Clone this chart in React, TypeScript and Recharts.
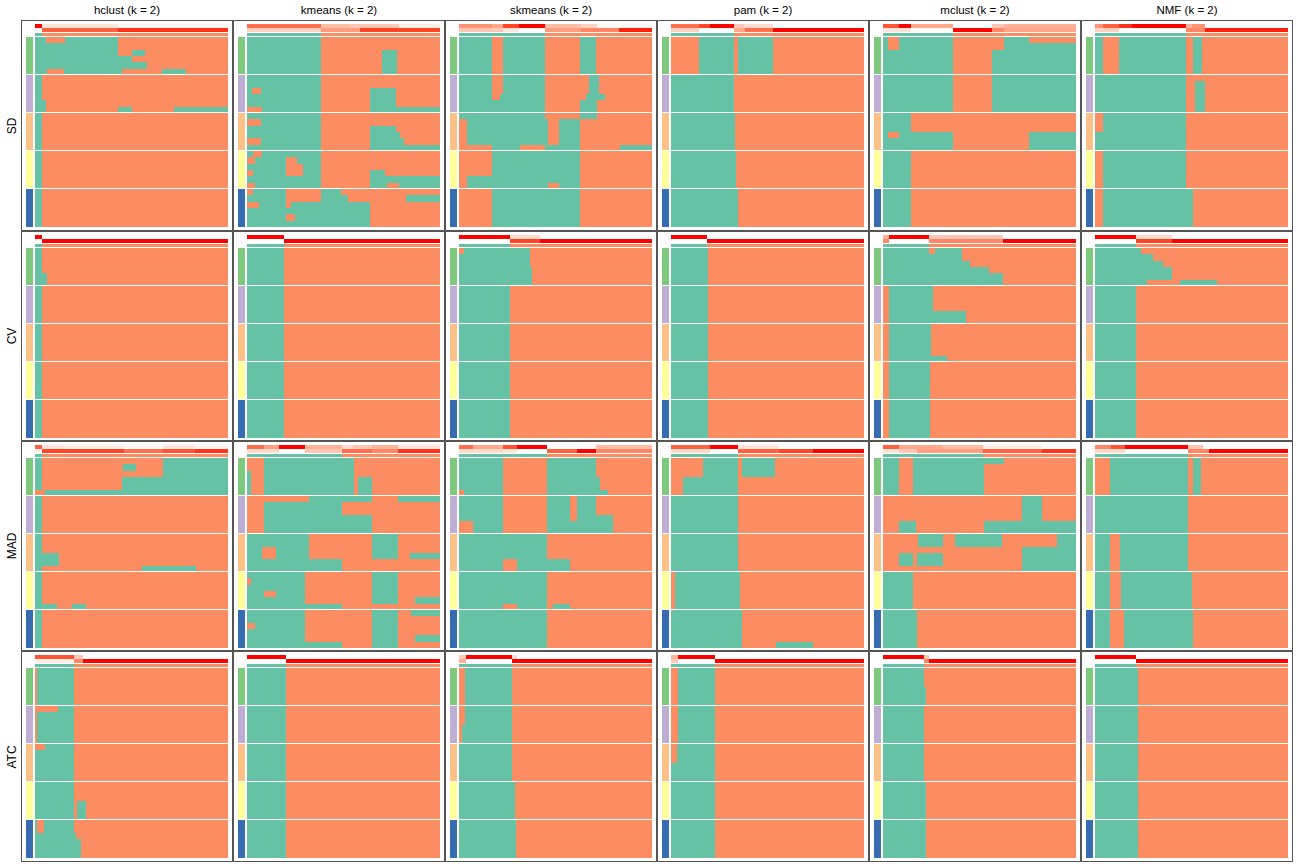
import { BarChart, Bar, XAxis, YAxis } from 'recharts'

const METHODS = ['hclust', 'kmeans', 'skmeans', 'pam', 'mclust', 'NMF']
const METRICS = ['SD', 'CV', 'MAD', 'ATC']
const GROUP_COLORS = ['#7FC97F', '#BEAED4', '#FDC086', '#FFFF99', '#386CB0']
const CLASS_COLORS = ['#66C2A5', '#FC8D62']

// top annotation runs: [width %, red intensity 0..1], one list per method
type Run = [number, number]
// heatmap rows: [repeat, alternating widths starting with class 1 (green)]
type Block = [number, number[]]
type Group = Block[]

const SD_P1: Run[][] = [
  [[3.6, 1], [39.5, 0.15], [56.9, 0.05]],
  [[38.5, 0.7], [15, 0.35], [25, 0.3], [21.5, 0.1]],
  [[17, 0.55], [6, 0.45], [8, 0.85], [13.6, 1], [18.4, 0.35], [8.6, 0.25], [28.4, 0.05]],
  [[14.7, 0.7], [5.3, 0.85], [12.6, 1], [5.4, 0.3], [14.6, 0.2], [47.4, 0]],
  [[8.4, 0.8], [5.9, 1], [22, 0.45], [20, 0], [6.3, 0.3], [37.4, 0.4]],
  [[4.2, 0.55], [8.4, 0.75], [6.8, 0.9], [27.8, 1], [3.3, 0.4], [6.3, 0.55], [43.2, 0]],
]
const SD_P2: Run[][] = [
  [[3.6, 0.05], [39.5, 0.75], [56.9, 0.9]],
  [[38.5, 0.25], [20, 0.5], [41.5, 0.85]],
  [[23, 0.3], [8, 0.15], [13.6, 0.02], [18.4, 0.5], [20, 0.6], [17, 0.95]],
  [[14.7, 0.25], [17.9, 0.02], [6, 0.45], [14.5, 0.7], [46.9, 1]],
  [[14.3, 0.15], [22, 0.02], [20, 1], [6.3, 0.6], [37.4, 0.45]],
  [[12.6, 0.25], [34.6, 0.02], [9.6, 0.6], [43.2, 0.95]],
]
const SD_CLASS = [3.6, 38.5, 44.6, 32.6, 36.3, 47.2]
const SD_CELLS: Group[][] = [
  [
    [[1, [5.5, 10, 27.5, 57]], [1, [43, 57]], [1, [43, 7, 7, 43]], [1, [50, 50]], [1, [58, 42]], [1, [6, 9, 30, 21, 12, 22]]],
    [[4, [3.6, 96.4]], [1, [5.5, 94.5]], [1, [5.5, 37.5, 7.5, 21.3, 28.2]]],
    [[6, [3.6, 96.4]]],
    [[6, [3.6, 96.4]]],
    [[6, [3.6, 96.4]]],
  ],
  [
    [[2, [38.5, 61.5]], [4, [38.5, 31.5, 7.5, 22.5]]],
    [[2, [38.5, 61.5]], [1, [2.5, 4.5, 31.5, 25, 13.5, 23]], [2, [38.5, 25, 13.5, 23]], [1, [0, 8, 30.5, 25, 36.5]]],
    [[1, [38.5, 61.5]], [1, [0, 7, 31.5, 61.5]], [1, [38.5, 25, 13.5, 23]], [1, [38.5, 25, 16, 20.5]], [1, [0, 7, 31.5, 25, 18, 18.5]], [1, [38.5, 25, 36.5]]],
    [[1, [3, 5, 30.5, 61.5]], [1, [0, 4, 16, 6, 12.5, 61.5]], [1, [20, 9, 9.5, 61.5]], [1, [0, 3, 17, 9, 9.5, 25, 8, 28.5]], [1, [38.5, 25, 36.5]], [1, [0, 4, 34.5, 25, 9, 6, 21.5]]],
    [[1, [0, 3, 17, 18.5, 10, 51.5]], [1, [20, 18.5, 14, 30, 17.5]], [1, [0, 6, 14, 3, 40.5, 36.5]], [1, [63.5, 36.5]], [1, [20, 5, 38.5, 36.5]], [1, [63.5, 36.5]]],
  ],
  [
    [[6, [17, 6, 21.6, 18, 8.5, 28.9]]],
    [[3, [17, 6, 21.6, 23, 5, 27.4]], [1, [17, 4, 23.6, 21, 10, 24.4]], [2, [44.6, 18, 9, 28.4]]],
    [[1, [44.6, 18, 9, 28.4]], [4, [0, 4, 42, 6, 10.7, 37.3]], [1, [0, 17, 14.5, 13.1, 18.1, 20.5, 16.8]]],
    [[4, [0, 17, 45.7, 37.3]], [1, [0, 4, 58.7, 37.3]], [1, [0, 4, 42, 6, 10.7, 37.3]]],
    [[6, [0, 17, 45.7, 37.3]]],
  ],
  [
    [[6, [0, 14.3, 18.3, 2.1, 17.9, 47.4]]],
    [[6, [32.6, 67.4]]],
    [[6, [33, 67]]],
    [[6, [33.5, 66.5]]],
    [[6, [34.7, 65.3]]],
  ],
  [
    [[1, [2.7, 5.7, 27.9, 26.3, 13.2, 24.2]], [1, [2.7, 5.7, 27.9, 26.3, 37.4]], [4, [36.3, 20, 43.7]]],
    [[6, [36.3, 20, 43.7]]],
    [[3, [14.3, 85.7]], [1, [2.7, 5.7, 27.9, 39.5, 24.2]], [2, [36.3, 39.5, 24.2]]],
    [[6, [14.3, 85.7]]],
    [[6, [14.3, 85.7]]],
  ],
  [
    [[6, [4.2, 8.4, 34.6, 3.8, 4.2, 44.8]]],
    [[1, [47.2, 52.8]], [5, [47.2, 4.6, 5, 43.2]]],
    [[3, [0, 4.2, 43, 52.8]], [3, [47.2, 52.8]]],
    [[6, [0, 4.2, 43, 52.8]]],
    [[6, [0, 4.2, 46.8, 49]]],
  ],
]

const CV_P1: Run[][] = [
  [[3.8, 1], [96.2, 0]],
  [[19, 1], [81, 0]],
  [[26.5, 1], [15.5, 0.2], [58, 0]],
  [[18.5, 1], [81.5, 0]],
  [[3, 0.4], [21, 1], [38, 0.3], [38, 0]],
  [[21.4, 1], [18.6, 0.2], [60, 0]],
]
const CV_P2: Run[][] = [
  [[3.8, 0], [96.2, 1]],
  [[19, 0], [81, 1]],
  [[26.5, 0], [15.5, 0.85], [58, 1]],
  [[18.5, 0], [81.5, 1]],
  [[3, 0.6], [21, 0], [38, 0.6], [38, 1]],
  [[21.4, 0], [18.6, 0.85], [60, 1]],
]
const CV_CLASS = [3.8, 19, 26.5, 18.5, 24, 21.4]
const CV_CELLS: Group[][] = [
  [
    [[4, [3.8, 96.2]], [2, [6.3, 93.7]]],
    [[6, [3.8, 96.2]]],
    [[6, [3.8, 96.2]]],
    [[6, [3.8, 96.2]]],
    [[6, [3.8, 96.2]]],
  ],
  [[[6, [19, 81]]], [[6, [19, 81]]], [[6, [19, 81]]], [[6, [19, 81]]], [[6, [19, 81]]]],
  [
    [[1, [0, 2.5, 34.5, 63]], [2, [37, 63]], [3, [37.8, 62.2]]],
    [[6, [26.5, 73.5]]],
    [[6, [26.5, 73.5]]],
    [[6, [26.5, 73.5]]],
    [[6, [26.5, 73.5]]],
  ],
  [[[6, [19, 81]]], [[6, [19, 81]]], [[6, [19, 81]]], [[6, [19, 81]]], [[6, [19, 81]]]],
  [
    [[1, [24, 3, 13.8, 59.2]], [1, [40.8, 59.2]], [1, [45, 55]], [1, [55, 45]], [2, [62, 38]]],
    [[4, [0, 3, 23, 74]], [2, [0, 3, 40, 57]]],
    [[5, [0, 3, 22, 75]], [1, [0, 3, 30, 67]]],
    [[6, [0, 3, 21.5, 75.5]]],
    [[6, [0, 3, 21.5, 75.5]]],
  ],
  [
    [[1, [24, 76]], [1, [30, 70]], [1, [35, 65]], [2, [40, 60]], [1, [27, 17, 19, 37]]],
    [[6, [21.4, 78.6]]],
    [[6, [21.4, 78.6]]],
    [[6, [21.4, 78.6]]],
    [[6, [21.4, 78.6]]],
  ],
]

const MAD_P1: Run[][] = [
  [[3.6, 0.75], [11.8, 0.15], [30.8, 0.1], [20, 0.03], [16.8, 0.15], [17, 0.05]],
  [[9, 0.7], [7.4, 0.5], [13.6, 1], [19, 0.4], [6, 0.2], [9.7, 0.3], [13.7, 0.4], [21.6, 0.15]],
  [[7.4, 0.7], [15.3, 0.45], [7.3, 0.8], [15.7, 1], [25.5, 0], [28.8, 0.35]],
  [[20, 0.75], [14.7, 1], [21.1, 0.15], [44.2, 0]],
  [[8.4, 0.75], [22.6, 0.45], [21, 0.35], [30.5, 0.1], [17.5, 0]],
  [[8.4, 0.6], [7.4, 0.8], [32.6, 1], [7.4, 0.3], [44.2, 0]],
]
const MAD_P2: Run[][] = [
  [[3.6, 0.1], [42.6, 0.85], [20, 0.7], [16.8, 0.8], [17, 0.9]],
  [[16.4, 0.2], [13.6, 0.02], [19, 0.3], [15.7, 0.7], [13.7, 0.6], [21.6, 0.9]],
  [[22.7, 0.2], [7.3, 0.15], [15.7, 0], [15.4, 0.75], [10.1, 1], [28.8, 0.6]],
  [[20, 0.2], [14.7, 0], [21.1, 0.75], [17.9, 0.85], [26.3, 1]],
  [[8.4, 0.15], [9, 0.3], [34.6, 0.5], [30.5, 0.75], [17.5, 0.9]],
  [[15.8, 0.2], [32.6, 0], [10.5, 0.6], [41.1, 1]],
]
const MAD_CLASS = [3.6, 49, 45.7, 34.7, 52, 48.4]
const MAD_CELLS: Group[][] = [
  [
    [[1, [3.6, 62.7, 33.7]], [1, [3.6, 42, 6.5, 14.2, 33.7]], [1, [3.6, 62.7, 33.7]], [2, [3.6, 41.6, 54.8]], [1, [0, 5, 95]]],
    [[6, [3.6, 96.4]]],
    [[3, [3.6, 96.4]], [2, [12.6, 87.4]], [1, [3.6, 51.8, 27.8, 16.8]]],
    [[5, [3.6, 96.4]], [1, [11.6, 7.4, 7.4, 73.6]]],
    [[6, [3.6, 96.4]]],
  ],
  [
    [[2, [0, 9, 46.4, 44.6]], [1, [2, 7, 46.4, 44.6]], [3, [2, 7, 46.4, 2, 7.3, 35.3]]],
    [[1, [0, 32, 32.7, 13.7, 21.6]], [2, [0, 9, 40, 51]], [3, [0, 9, 55.7, 35.3]]],
    [[2, [32.2, 32.5, 13.7, 21.6]], [1, [8, 7, 17.2, 32.5, 13.7, 21.6]], [1, [8, 7, 17.2, 32.5, 13.7, 6, 15.6]], [2, [49, 51]]],
    [[1, [30, 34.7, 13.7, 21.6]], [1, [0, 2, 28, 34.7, 13.7, 21.6]], [1, [30, 34.7, 13.7, 21.6]], [1, [9, 6, 15, 34.7, 13.7, 21.6]], [1, [30, 34.7, 13.7, 8.6, 13]], [1, [49, 51]]],
    [[1, [30, 34.7, 13.7, 6.5, 15.1]], [1, [30, 34.7, 13.7, 21.6]], [1, [0, 4, 26, 34.7, 13.7, 21.6]], [1, [30, 34.7, 13.7, 21.6]], [1, [30, 34.7, 13.7, 8.5, 13.1]], [1, [49, 15.7, 13.7, 21.6]]],
  ],
  [
    [[3, [22.7, 23, 25.5, 28.8]], [2, [22.7, 23, 27.3, 27]], [1, [0, 2.5, 20.2, 23, 31.5, 22.8]]],
    [[3, [22.7, 23, 11.6, 3.8, 10.1, 28.8]], [1, [22.7, 23, 11.6, 3.8, 18.9, 20]], [2, [0, 7, 15.7, 23, 34.3, 20]]],
    [[4, [45.7, 54.3]], [2, [22.7, 7.5, 27.3, 42.5]]],
    [[5, [45.7, 54.3]], [1, [22.7, 7.5, 15.5, 2.8, 9, 42.5]]],
    [[6, [45.7, 54.3]]],
  ],
  [
    [[3, [0, 16.8, 17.9, 2.1, 17.3, 45.9]], [3, [0, 6, 28.7, 65.3]]],
    [[6, [34.7, 65.3]]],
    [[6, [34.7, 65.3]]],
    [[6, [0, 2, 33.8, 64.2]]],
    [[5, [36.8, 63.2]], [1, [36.8, 17.5, 19.5, 26.2]]],
  ],
  [
    [[1, [8.4, 7.4, 46.8, 37.4]], [5, [8.4, 7.4, 36.3, 47.9]]],
    [[4, [0, 72, 10.3, 17.7]], [2, [0, 8.4, 8.8, 35.1, 47.7]]],
    [[2, [0, 18, 13, 6.5, 24.2, 28.3, 10]], [1, [0, 72, 28]], [2, [0, 8.4, 7.4, 2, 13.2, 41, 28]], [1, [0, 72, 28]]],
    [[6, [15.8, 84.2]]],
    [[6, [17.5, 82.5]]],
  ],
  [
    [[6, [0, 8, 40.4, 2.5, 3.8, 45.3]]],
    [[6, [48.4, 51.6]]],
    [[6, [8, 5, 35.4, 51.6]]],
    [[6, [8, 5.5, 36.5, 50]]],
    [[6, [8, 7, 36, 49]]],
  ],
]

const ATC_P1: Run[][] = [
  [[20, 0.8], [5, 0.3], [75, 0]],
  [[20.2, 1], [79.8, 0]],
  [[3.4, 0.3], [23.9, 1], [3, 0.2], [69.7, 0]],
  [[3.8, 0.4], [18.9, 1], [77.3, 0]],
  [[21, 1], [3, 0.3], [76, 0]],
  [[21.4, 1], [78.6, 0]],
]
const ATC_P2: Run[][] = [
  [[20, 0.1], [5, 0.6], [75, 1]],
  [[20.2, 0], [79.8, 1]],
  [[3.4, 0.4], [23.9, 0], [72.7, 1]],
  [[3.8, 0.3], [18.9, 0], [77.3, 1]],
  [[21, 0], [3, 0.6], [76, 1]],
  [[21.4, 0], [78.6, 1]],
]
const ATC_CLASS = [20, 20.2, 27.3, 22.7, 21, 21.4]
const ATC_CELLS: Group[][] = [
  [
    [[6, [0, 1, 19.2, 79.8]]],
    [[1, [0, 11.8, 8.4, 79.8]], [5, [0, 1, 19.2, 79.8]]],
    [[1, [0, 5, 15.2, 79.8]], [5, [20.2, 79.8]]],
    [[3, [20.2, 79.8]], [3, [20.2, 1.4, 4.7, 73.7]]],
    [[2, [1, 3.7, 15.5, 79.8]], [1, [21, 79]], [3, [23.9, 76.1]]],
  ],
  [[[6, [20.2, 79.8]]], [[6, [20.2, 79.8]]], [[6, [20.2, 79.8]]], [[6, [20.2, 79.8]]], [[6, [20.2, 79.8]]]],
  [
    [[6, [0, 3, 24.3, 72.7]]],
    [[3, [0, 3, 24.3, 72.7]], [3, [0, 1.5, 25.8, 72.7]]],
    [[6, [27.5, 72.5]]],
    [[6, [29, 71]]],
    [[6, [29.5, 70.5]]],
  ],
  [
    [[6, [0, 3.8, 18.9, 77.3]]],
    [[6, [0, 3.8, 18.9, 77.3]]],
    [[3, [0, 3, 19.7, 77.3]], [3, [22.7, 77.3]]],
    [[6, [22.7, 77.3]]],
    [[6, [22.7, 77.3]]],
  ],
  [
    [[3, [21.5, 78.5]], [3, [22.5, 77.5]]],
    [[6, [21.5, 78.5]]],
    [[6, [21, 79]]],
    [[6, [22.5, 77.5]]],
    [[6, [22.5, 77.5]]],
  ],
  [[[6, [22.3, 77.7]]], [[6, [22.3, 77.7]]], [[6, [22.3, 77.7]]], [[6, [22.3, 77.7]]], [[6, [22.3, 77.7]]]],
]

const PANELS: Record<string, { p1: Run[][]; p2: Run[][]; cls: number[]; cells: Group[][] }> = {
  SD: { p1: SD_P1, p2: SD_P2, cls: SD_CLASS, cells: SD_CELLS },
  CV: { p1: CV_P1, p2: CV_P2, cls: CV_CLASS, cells: CV_CELLS },
  MAD: { p1: MAD_P1, p2: MAD_P2, cls: MAD_CLASS, cells: MAD_CELLS },
  ATC: { p1: ATC_P1, p2: ATC_P2, cls: ATC_CLASS, cells: ATC_CELLS },
}

const ROW_TOPS = [20, 231, 441, 651, 862]
const COL_LEFT = 21
const COL_W = 212
const HEAT_H = 190
const ANN_H = 12
const FONT = '"Liberation Sans", Arial, sans-serif'

// white -> red, roughly like a Lab ramp
function redShade(t: number) {
  const g = Math.round(255 * Math.pow(1 - t, 0.7))
  const b = Math.round(255 * (1 - t))
  return `rgb(255,${g},${b})`
}

function cellRows(groups: Group[]) {
  const rows: Record<string, any>[] = []
  groups.forEach((g, gi) => {
    const flat: number[][] = []
    g.forEach(([n, segs]) => { for (let i = 0; i < n; i++) flat.push(segs) })
    flat.forEach((segs, ri) => {
      const total = segs.reduce((a, b) => a + b, 0)
      const row: Record<string, any> = { id: `g${gi}r${ri}`, gapBottom: gi < groups.length - 1 && ri === flat.length - 1 }
      segs.forEach((w, k) => { row[`s${k}`] = (w * 100) / total })
      rows.push(row)
    })
  })
  return rows
}

function annRows(p1: Run[], p2: Run[], cls: number) {
  const mk = (id: string, runs: [number, string][]) => {
    const row: Record<string, any> = { id }
    runs.forEach(([w, c], k) => { row[`a${k}`] = w; row[`c${k}`] = c })
    return row
  }
  return [
    mk('p1', p1.map(([w, t]) => [w, redShade(t)] as [number, string])),
    mk('p2', p2.map(([w, t]) => [w, redShade(t)] as [number, string])),
    mk('cls', [[cls, CLASS_COLORS[0]], [100 - cls, CLASS_COLORS[1]]]),
  ]
}

const MAX_SEGS = Math.max(...Object.values(PANELS).flatMap(p => p.cells.flat(2).map(b => b[1].length)))
const MAX_RUNS = Math.max(...Object.values(PANELS).flatMap(p => [...p.p1, ...p.p2].map(r => r.length)), 2)

const GROUP_ROWS = GROUP_COLORS.map((color, i) => ({ id: `grp${i}`, v: 1, color, gapBottom: i < GROUP_COLORS.length - 1 }))

// snap both edges to whole pixels so neighbouring cells meet without seams
function snapRect(x: number, y: number, w: number, h: number, cutBottom = 0, cutTop = 0) {
  const x0 = Math.round(x)
  const x1 = Math.round(x + w)
  const y0 = Math.round(y) + cutTop
  const y1 = Math.round(y + h) - cutBottom
  return { x: x0, y: y0, width: Math.max(0, x1 - x0), height: Math.max(0, y1 - y0) }
}

const cellShape = (props: any) => {
  const { x, y, width, height, fill, payload } = props
  if (!(width > 0)) return <g />
  const r = snapRect(x, y, width, height, payload?.gapBottom ? 1 : 0)
  return <rect {...r} fill={fill} shapeRendering="crispEdges" />
}

const groupShape = (props: any) => {
  const { x, y, width, height, payload } = props
  const r = snapRect(x, y, width, height, payload?.gapBottom ? 1 : 0)
  return <rect {...r} fill={payload.color} shapeRendering="crispEdges" />
}

const annShape = (k: number) => (props: any) => {
  const { x, y, width, height, payload } = props
  if (!(width > 0)) return <g />
  const isCls = payload.id === 'cls'
  const r = snapRect(x, y, width, height, 0, isCls ? 1 : 0)
  return <rect {...r} fill={payload[`c${k}`]} shapeRendering="crispEdges" />
}

// a bar just under the band size fills the band (equal size makes Recharts shrink it to 90%)
const fullBand = (total: number, n: number) => total / n - 0.001

function Panel({ metric, mi, left, top, height }: { metric: string; mi: number; left: number; top: number; height: number }) {
  const p = PANELS[metric]
  const rows = cellRows(p.cells[mi])
  const ann = annRows(p.p1[mi], p.p2[mi], p.cls[mi])
  const margin = { top: 0, right: 0, bottom: 0, left: 0 }
  return (
    <div style={{ position: 'absolute', left, top, width: COL_W, height, boxSizing: 'border-box', border: '1px solid #555' }}>
      <div style={{ position: 'absolute', left: 13, top: 3 }}>
        <BarChart width={193} height={ANN_H} data={ann} layout="vertical" margin={margin} barCategoryGap="0%" barGap={0}>
          <XAxis type="number" domain={[0, 100]} hide allowDataOverflow />
          <YAxis type="category" dataKey="id" hide />
          {Array.from({ length: MAX_RUNS }, (_, k) => (
            <Bar key={k} dataKey={`a${k}`} stackId="a" fill="#fff" barSize={fullBand(ANN_H, ann.length)} shape={annShape(k)} isAnimationActive={false} />
          ))}
        </BarChart>
      </div>
      <div style={{ position: 'absolute', left: 4, top: 16 }}>
        <BarChart width={7} height={HEAT_H} data={GROUP_ROWS} layout="vertical" margin={margin} barCategoryGap="0%">
          <XAxis type="number" domain={[0, 1]} hide />
          <YAxis type="category" dataKey="id" hide />
          <Bar dataKey="v" barSize={fullBand(HEAT_H, GROUP_ROWS.length)} shape={groupShape} isAnimationActive={false} />
        </BarChart>
      </div>
      <div style={{ position: 'absolute', left: 13, top: 16 }}>
        <BarChart width={193} height={HEAT_H} data={rows} layout="vertical" margin={margin} barCategoryGap="0%" barGap={0}>
          <XAxis type="number" domain={[0, 100]} hide allowDataOverflow />
          <YAxis type="category" dataKey="id" hide />
          {Array.from({ length: MAX_SEGS }, (_, k) => (
            <Bar key={k} dataKey={`s${k}`} stackId="c" fill={CLASS_COLORS[k % 2]} barSize={fullBand(HEAT_H, rows.length)} shape={cellShape} isAnimationActive={false} />
          ))}
        </BarChart>
      </div>
    </div>
  )
}

export default function App() {
  return (
    <div style={{ position: 'absolute', left: 0, top: 0, width: 1296, height: 864, background: '#fff', fontFamily: FONT }}>
      {METHODS.map((m, i) => (
        <div key={m} style={{ position: 'absolute', left: COL_LEFT + i * COL_W, top: 4, width: COL_W, textAlign: 'center', fontSize: 11.5, color: '#000' }}>
          {m} (k = 2)
        </div>
      ))}
      {METRICS.map((metric, j) => {
        const top = ROW_TOPS[j]
        const height = ROW_TOPS[j + 1] - top
        return (
          <div key={metric}>
            <div style={{ position: 'absolute', left: 12, top: top + height / 2, transform: 'translate(-50%, -50%) rotate(-90deg)', fontSize: 12, whiteSpace: 'nowrap' }}>
              {metric}
            </div>
            {METHODS.map((m, i) => (
              <Panel key={m} metric={metric} mi={i} left={COL_LEFT + i * COL_W} top={top} height={height} />
            ))}
          </div>
        )
      })}
    </div>
  )
}
